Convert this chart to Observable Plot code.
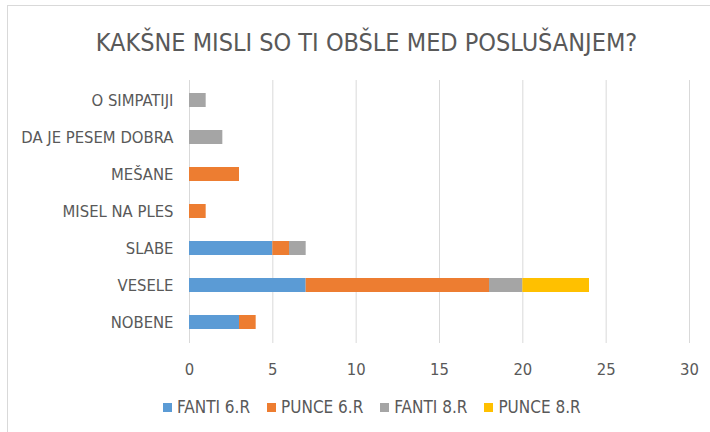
<!DOCTYPE html>
<html>
<head>
<meta charset="utf-8">
<script src="https://cdn.jsdelivr.net/npm/d3@7"></script>
<script src="https://cdn.jsdelivr.net/npm/@observablehq/plot@0.6"></script>
<style>
  html, body { margin: 0; padding: 0; background: #fff; }
  #wrap { position: relative; width: 710px; height: 432px; overflow: hidden; background: #fff;
          font-family: "Liberation Sans Narrow", "DejaVu Sans Condensed", "Liberation Sans", sans-serif; color: #595959; }
  #borderTop { position: absolute; left: 8px; top: 5px; width: 702px; height: 0; border-top: 1.5px solid #d9d9d9; }
  #borderLeft { position: absolute; left: 7px; top: 5px; width: 0; height: 427px; border-left: 1.5px solid #d9d9d9; }
  #title { position: absolute; left: 0; top: 30px; width: 733px; text-align: center; font-size: 25px; line-height: 26px; white-space: nowrap; }
  #chart { position: absolute; left: 0; top: 60px; }
  #legend { position: absolute; left: 163px; top: 398px; height: 18px; display: flex; align-items: center; gap: 17px; font-size: 17px; line-height: 18px; white-space: nowrap; }
  .item { display: flex; align-items: center; gap: 5px; }
  .sw { width: 9px; height: 9px; display: inline-block; }
</style>
</head>
<body>
<div id="wrap">
  <div id="borderTop"></div>
  <div id="borderLeft"></div>
  <div id="title"></div>
  <div id="chart"></div>
  <div id="legend"></div>
</div>
<script>
const titleText = "KAKŠNE MISLI SO TI OBŠLE MED POSLUŠANJEM?";
const categories = ["O SIMPATIJI", "DA JE PESEM DOBRA", "MEŠANE", "MISEL NA PLES", "SLABE", "VESELE", "NOBENE"];
const series = ["FANTI 6.R", "PUNCE 6.R", "FANTI 8.R", "PUNCE 8.R"];
const colors = ["#5B9BD5", "#ED7D31", "#A5A5A5", "#FFC000"];
const fanti6 = [0, 0, 0, 0, 5, 7, 3];
const punce6 = [0, 0, 3, 1, 1, 11, 1];
const fanti8 = [1, 2, 0, 0, 1, 2, 0];
const punce8 = [0, 0, 0, 0, 0, 4, 0];
const xTicks = [0, 5, 10, 15, 20, 25, 30];

const seriesValues = [fanti6, punce6, fanti8, punce8];
const rows = [];
categories.forEach((c, i) => {
  series.forEach((s, j) => {
    const v = seriesValues[j][i];
    if (v > 0) rows.push({category: c, series: s, value: v});
  });
});

document.getElementById("title").textContent = titleText;

const chart = Plot.plot({
  width: 710,
  height: 330,
  marginLeft: 189,
  marginRight: 21,
  marginTop: 20,
  marginBottom: 47,
  style: {
    fontFamily: '"Liberation Sans Narrow", "DejaVu Sans Condensed", "Liberation Sans", sans-serif',
    fontSize: "16.5px",
    color: "#595959",
    background: "transparent",
    overflow: "visible"
  },
  x: {domain: [0, 30], label: null},
  y: {domain: categories, paddingInner: 0.615, paddingOuter: 0.3075, label: null},
  color: {domain: series, range: colors},
  marks: [
    Plot.gridX(xTicks, {stroke: "#d9d9d9", strokeOpacity: 1, strokeWidth: 1}),
    Plot.barX(rows, Plot.stackX({x: "value", y: "category", fill: "series", order: series})),
    Plot.axisX(xTicks, {tickSize: 0, tickPadding: 20, fill: "#595959", label: null}),
    Plot.axisY({tickSize: 0, tickPadding: 16, fill: "#595959", label: null})
  ]
});
document.getElementById("chart").appendChild(chart);

const legend = document.getElementById("legend");
series.forEach((s, j) => {
  const item = document.createElement("div");
  item.className = "item";
  const sw = document.createElement("span");
  sw.className = "sw";
  sw.style.background = colors[j];
  const t = document.createElement("span");
  t.textContent = s;
  item.appendChild(sw);
  item.appendChild(t);
  legend.appendChild(item);
});
</script>
</body>
</html>
